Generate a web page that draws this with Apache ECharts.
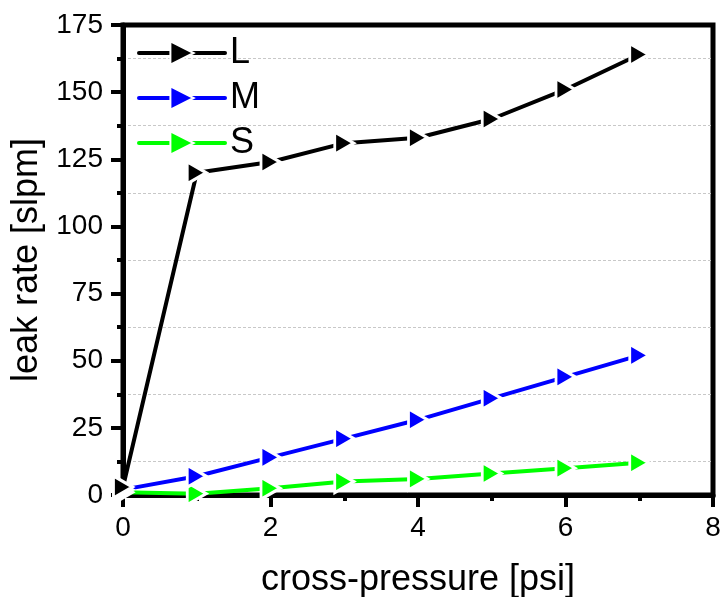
<!DOCTYPE html>
<html>
<head>
<meta charset="utf-8">
<script src="https://cdn.jsdelivr.net/npm/echarts@6/dist/echarts.min.js"></script>
<style>
  html, body { margin: 0; padding: 0; background: #fff; }
  #chart { width: 724px; height: 597px; }
</style>
</head>
<body>
<div id="chart"></div>
<script>
// Cross-pressure in psi
const pressure = [0, 1, 2, 3, 4, 5, 6, 7];
// Leak rate in slpm for each seal size
const leakL = [3, 120, 124, 131, 133, 140, 151, 164];
const leakM = [2, 7, 14, 21, 28, 36, 44, 52];
const leakS = [1, 0.5, 2.5, 5, 6, 8, 10, 12];

const seriesNames = ['L', 'M', 'S'];
const seriesColors = ['#000000', '#0000ff', '#00ff00'];
const seriesData = [leakL, leakM, leakS];

const font = 'Liberation Sans, Arial, sans-serif';

const chart = echarts.init(document.getElementById('chart'));

chart.setOption({
  animation: false,
  backgroundColor: '#ffffff',
  grid: {
    left: 123, right: 11, top: 25, bottom: 102,
    show: true, borderColor: '#000', borderWidth: 5,
    containLabel: false,
    outerBoundsMode: 'none'
  },
  legend: {
    orient: 'vertical',
    left: 132, top: 30,
    itemWidth: 86, itemHeight: 29, itemGap: 9,
    lineStyle: { width: 4 },
    textStyle: { fontFamily: font, fontSize: 36, color: '#000' },
    data: seriesNames
  },
  xAxis: {
    type: 'value',
    min: 0, max: 8, interval: 2,
    name: 'cross-pressure [psi]',
    nameLocation: 'middle', nameGap: 67,
    nameTextStyle: { fontFamily: font, fontSize: 36, color: '#000' },
    axisLine: { lineStyle: { color: '#000', width: 5 } },
    axisTick: { inside: false, length: 12, lineStyle: { color: '#000', width: 4 } },
    minorTick: { show: true, splitNumber: 2, length: 6, lineStyle: { color: '#000', width: 4 } },
    axisLabel: { fontFamily: font, fontSize: 28, color: '#000', margin: 19 },
    splitLine: { show: false }
  },
  yAxis: {
    type: 'value',
    min: 0, max: 175, interval: 25,
    name: 'leak rate [slpm]',
    nameLocation: 'middle', nameGap: 78,
    nameTextStyle: { fontFamily: font, fontSize: 36, color: '#000' },
    axisLine: { lineStyle: { color: '#000', width: 5 } },
    axisTick: { inside: false, length: 12, lineStyle: { color: '#000', width: 4 } },
    minorTick: { show: true, splitNumber: 2, length: 6, lineStyle: { color: '#000', width: 4 } },
    minorSplitLine: { show: true, lineStyle: { color: '#c8c8c8', width: 1, type: [3, 2] } },
    axisLabel: { fontFamily: font, fontSize: 28, color: '#000', margin: 20 },
    splitLine: { show: false }
  },
  series: seriesNames.map((name, i) => ({
    name: name,
    type: 'line',
    data: pressure.map((p, j) => [p, seriesData[i][j]]),
    symbol: 'triangle',
    symbolRotate: -90,
    symbolSize: [22, 19],
    showAllSymbol: true,
    lineStyle: { color: seriesColors[i], width: 4, cap: 'round' },
    itemStyle: { color: seriesColors[i], borderColor: '#fff', borderWidth: 3 },
    z: 3 - i
  }))
});
</script>
</body>
</html>
